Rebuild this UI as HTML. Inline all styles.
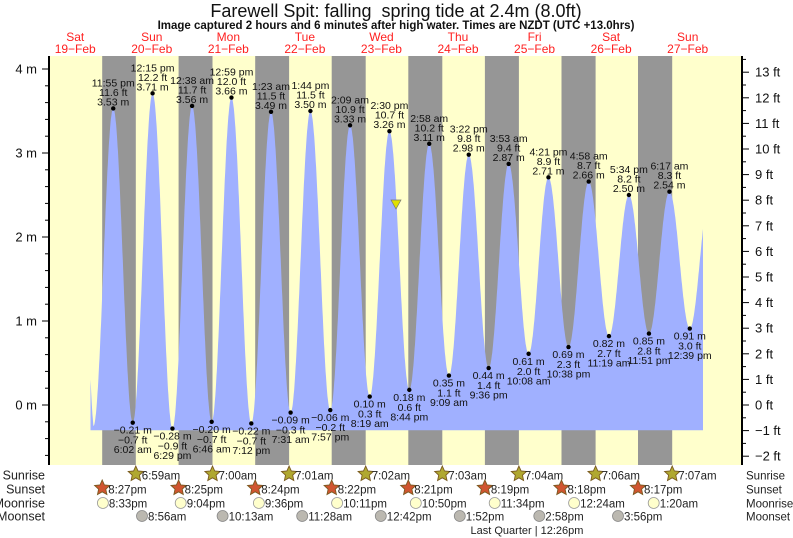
<!DOCTYPE html>
<html><head><meta charset="utf-8">
<style>
html,body{margin:0;padding:0;background:#fff;}
svg{display:block;font-family:"Liberation Sans",sans-serif;}
</style></head>
<body>
<svg id="s" width="793" height="538" xmlns="http://www.w3.org/2000/svg"></svg>
<script>
var s=document.getElementById('s');
var out=[];
function X(h){return 113.5+h*3.19;}
function Y(m){return 405-84*m;}
out.push('<rect x="49" y="56" width="693" height="409" fill="#ffffcc"/>');
var bands=[[102.2,135.8],[178.6,212.5],[255.2,289.1],[331.7,365.7],[408.3,442.3],[484.9,518.9],[561.5,595.6],[638,672.2]];
bands.forEach(function(b){out.push('<rect x="'+b[0]+'" y="56" width="'+(b[1]-b[0])+'" height="409" fill="#969696"/>');});
var E=[
[-6.3,-0.25,'L'],
[-0.083,3.53,'H','11:55 pm','11.6 ft','3.53 m'],
[6.03,-0.21,'L','6:02 am','−0.7 ft','−0.21 m'],
[12.25,3.71,'H','12:15 pm','12.2 ft','3.71 m'],
[18.48,-0.28,'L','6:29 pm','−0.9 ft','−0.28 m'],
[24.63,3.56,'H','12:38 am','11.7 ft','3.56 m'],
[30.77,-0.20,'L','6:46 am','−0.7 ft','−0.20 m'],
[36.98,3.66,'H','12:59 pm','12.0 ft','3.66 m'],
[43.2,-0.22,'L','7:12 pm','−0.7 ft','−0.22 m'],
[49.38,3.49,'H','1:23 am','11.5 ft','3.49 m'],
[55.52,-0.09,'L','7:31 am','−0.3 ft','−0.09 m'],
[61.73,3.50,'H','1:44 pm','11.5 ft','3.50 m'],
[67.95,-0.06,'L','7:57 pm','−0.2 ft','−0.06 m'],
[74.15,3.33,'H','2:09 am','10.9 ft','3.33 m'],
[80.32,0.10,'L','8:19 am','0.3 ft','0.10 m'],
[86.5,3.26,'H','2:30 pm','10.7 ft','3.26 m'],
[92.73,0.18,'L','8:44 pm','0.6 ft','0.18 m'],
[98.97,3.11,'H','2:58 am','10.2 ft','3.11 m'],
[105.15,0.35,'L','9:09 am','1.1 ft','0.35 m'],
[111.37,2.98,'H','3:22 pm','9.8 ft','2.98 m'],
[117.6,0.44,'L','9:36 pm','1.4 ft','0.44 m'],
[123.88,2.87,'H','3:53 am','9.4 ft','2.87 m'],
[130.13,0.61,'L','10:08 am','2.0 ft','0.61 m'],
[136.35,2.71,'H','4:21 pm','8.9 ft','2.71 m'],
[142.63,0.69,'L','10:38 pm','2.3 ft','0.69 m'],
[148.97,2.66,'H','4:58 am','8.7 ft','2.66 m'],
[155.32,0.82,'L','11:19 am','2.7 ft','0.82 m'],
[161.57,2.50,'H','5:34 pm','8.2 ft','2.50 m'],
[167.85,0.85,'L','11:51 pm','2.8 ft','0.85 m'],
[174.28,2.54,'H','6:17 am','8.3 ft','2.54 m'],
[180.65,0.91,'L','12:39 pm','3.0 ft','0.91 m'],
[186.9,2.5,'H']];
var h0=-7.2,h1=184.8;
var pts=[];
for(var h=h0;h<=h1;h+=0.1){
  var i=0;while(i<E.length-2&&E[i+1][0]<h)i++;
  var a=E[i],b=E[i+1],t=(h-a[0])/(b[0]-a[0]);
  var v=a[1]+(b[1]-a[1])*(1-Math.cos(Math.PI*t))/2;
  if(h<-6.3) v=v+(-6.3-h)*0.4;
  pts.push(X(h).toFixed(1)+','+Y(v).toFixed(1));
}
var yb=Y(-0.3);
out.push('<path d="M'+X(h0).toFixed(1)+','+yb+' L'+pts.join(' L')+' L'+X(h1).toFixed(1)+','+yb+' Z" fill="#a0b0ff"/>');
E.forEach(function(e){
  if(!e[3])return;
  var x=X(e[0]),y=Y(e[1]);
  out.push('<circle cx="'+x+'" cy="'+y+'" r="2.2" fill="#000"/>');
  var fs='font-size="10.5" text-anchor="middle" fill="#111"';
  if(e[2]=='H'){
    out.push('<text x="'+x+'" y="'+(y-3)+'" '+fs+'>'+e[5]+'</text>');
    out.push('<text x="'+x+'" y="'+(y-12.5)+'" '+fs+'>'+e[4]+'</text>');
    out.push('<text x="'+x+'" y="'+(y-22)+'" '+fs+'>'+e[3]+'</text>');
  } else {
    out.push('<text x="'+x+'" y="'+(y+11)+'" '+fs+'>'+e[5]+'</text>');
    out.push('<text x="'+x+'" y="'+(y+21)+'" '+fs+'>'+e[4]+'</text>');
    out.push('<text x="'+x+'" y="'+(y+30.5)+'" '+fs+'>'+e[3]+'</text>');
  }
});
out.push('<polygon points="391,200 401,200 396,209" fill="#e0e000" stroke="#777" stroke-width="0.7"/>');
out.push('<line x1="49" y1="56" x2="49" y2="465" stroke="#000" stroke-width="2"/>');
out.push('<line x1="742" y1="56" x2="742" y2="465" stroke="#000" stroke-width="2"/>');
for(var m=-0.6;m<=4.25;m+=0.2){
  var y=Y(m),maj=Math.abs(m-Math.round(m))<0.01;
  if(y<56||y>465)continue;
  out.push('<line x1="'+(maj?42:45)+'" y1="'+y+'" x2="49" y2="'+y+'" stroke="#000" stroke-width="1"/>');
  if(maj) out.push('<text x="37" y="'+(y+4.5)+'" font-size="13" text-anchor="end" fill="#111">'+Math.round(m)+' m</text>');
}
for(var f=-2.5;f<=13.5;f+=0.5){
  var y=405-25.6*f,maj=(f==Math.round(f));
  if(y<56||y>465)continue;
  out.push('<line x1="742" y1="'+y+'" x2="'+(maj?749:746)+'" y2="'+y+'" stroke="#000" stroke-width="1"/>');
  if(maj) out.push('<text x="755" y="'+(y+4.5)+'" font-size="13" fill="#111">'+(f<0?'−'+(-f):f)+' ft</text>');
}
out.push('<text x="396" y="17" font-size="18" text-anchor="middle" fill="#111" xml:space="preserve">Farewell Spit: falling&#160; spring tide at 2.4m (8.0ft)</text>');
out.push('<text x="396" y="29" font-size="11.5" font-weight="bold" text-anchor="middle" fill="#111">Image captured 2 hours and 6 minutes after high water. Times are NZDT (UTC +13.0hrs)</text>');
var days=[['Sat','19−Feb'],['Sun','20−Feb'],['Mon','21−Feb'],['Tue','22−Feb'],['Wed','23−Feb'],['Thu','24−Feb'],['Fri','25−Feb'],['Sat','26−Feb'],['Sun','27−Feb']];
days.forEach(function(d,i){var x=X(-12+24*i);
  out.push('<text x="'+x+'" y="41" font-size="12" text-anchor="middle" fill="#ff2020">'+d[0]+'</text>');
  out.push('<text x="'+x+'" y="53" font-size="12" text-anchor="middle" fill="#ff2020">'+d[1]+'</text>');});
var rows=[['Sunrise',475],['Sunset',489],['Moonrise',503],['Moonset',516]];
rows.forEach(function(r){
  out.push('<text x="45" y="'+(r[1]+4.5)+'" font-size="12.5" text-anchor="end" fill="#222">'+r[0]+'</text>');
  out.push('<text x="746" y="'+(r[1]+4.5)+'" font-size="11.5" fill="#222">'+r[0]+'</text>');
});
function star(x,y,c){var p=[];for(var k=0;k<10;k++){var r=k%2?3.8:8,a=-Math.PI/2+k*Math.PI/5;p.push((x+r*Math.cos(a)).toFixed(1)+','+(y+r*Math.sin(a)).toFixed(1));}
  out.push('<polygon points="'+p.join(' ')+'" fill="'+c+'" stroke="#7a5a20" stroke-width="0.9"/>');}
function lab(x,y,t){out.push('<text x="'+(x+6)+'" y="'+(y+4.3)+'" font-size="11.5" fill="#222">'+t+'</text>');}
[[135.8,'6:59am'],[212.5,'7:00am'],[289.1,'7:01am'],[365.7,'7:02am'],[442.3,'7:03am'],[518.9,'7:04am'],[595.6,'7:06am'],[672.2,'7:07am']].forEach(function(a){star(a[0],474,'#b0a830');lab(a[0],475,a[1]);});
[[102.2,'8:27pm'],[178.6,'8:25pm'],[255.2,'8:24pm'],[331.7,'8:22pm'],[408.3,'8:21pm'],[484.9,'8:19pm'],[561.5,'8:18pm'],[638,'8:17pm']].forEach(function(a){star(a[0],488,'#d05530');lab(a[0],489,a[1]);});
[[102.9,'8:33pm'],[180.7,'9:04pm'],[258.9,'9:36pm'],[337.1,'10:11pm'],[415.8,'10:50pm'],[494.7,'11:34pm'],[574.1,'12:24am'],[653.7,'1:20am']].forEach(function(a){out.push('<circle cx="'+a[0]+'" cy="503" r="5.5" fill="#ffffcc" stroke="#999" stroke-width="0.8"/>');lab(a[0],503,a[1]);});
[[142,'8:56am'],[222.6,'10:13am'],[302.2,'11:28am'],[380.8,'12:42pm'],[459.8,'1:52pm'],[539.3,'2:58pm'],[618,'3:56pm']].forEach(function(a){out.push('<circle cx="'+a[0]+'" cy="516" r="5.5" fill="#bbb8b0" stroke="#888" stroke-width="0.8"/>');lab(a[0],516,a[1]);});
out.push('<text x="527" y="534" font-size="11" text-anchor="middle" fill="#222">Last Quarter | 12:26pm</text>');
s.innerHTML=out.join('');
</script>
</body></html>
